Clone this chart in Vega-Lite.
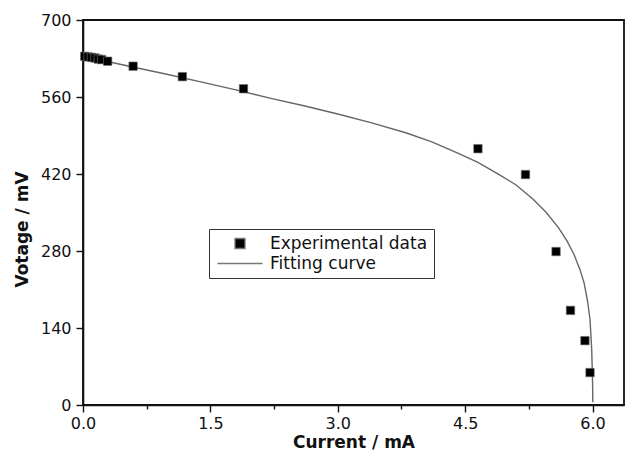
{
  "$schema": "https://vega.github.io/schema/vega-lite/v6.json",
  "width": 541,
  "height": 385,
  "autosize": {"type": "none"},
  "padding": {"left": 83, "top": 20, "right": 2, "bottom": 50},
  "background": "white",
  "config": {
    "view": {"stroke": "#111", "strokeWidth": 1.8},
    "font": "DejaVu Sans",
    "axis": {
      "grid": false,
      "domainColor": "#111",
      "domainWidth": 1.6,
      "tickColor": "#111",
      "tickWidth": 1.4,
      "labelFont": "DejaVu Sans",
      "labelFontSize": 16,
      "labelColor": "#111",
      "labelFlush": false,
      "titleFont": "DejaVu Sans",
      "titleFontSize": 17,
      "titleFontWeight": "bold",
      "titleColor": "#111"
    }
  },
  "datasets": {
    "exp": [
      {"I": 0.02, "V": 634, "series": "Experimental data"},
      {"I": 0.06, "V": 633, "series": "Experimental data"},
      {"I": 0.10, "V": 632, "series": "Experimental data"},
      {"I": 0.14, "V": 631, "series": "Experimental data"},
      {"I": 0.18, "V": 629, "series": "Experimental data"},
      {"I": 0.22, "V": 628, "series": "Experimental data"},
      {"I": 0.29, "V": 625, "series": "Experimental data"},
      {"I": 0.59, "V": 616, "series": "Experimental data"},
      {"I": 1.17, "V": 597, "series": "Experimental data"},
      {"I": 1.89, "V": 575, "series": "Experimental data"},
      {"I": 4.65, "V": 466, "series": "Experimental data"},
      {"I": 5.21, "V": 419, "series": "Experimental data"},
      {"I": 5.57, "V": 279, "series": "Experimental data"},
      {"I": 5.74, "V": 172, "series": "Experimental data"},
      {"I": 5.91, "V": 117, "series": "Experimental data"},
      {"I": 5.97, "V": 59, "series": "Experimental data"}
    ],
    "fit": [
      {"I": 0.0, "V": 635},
      {"I": 0.1, "V": 632},
      {"I": 0.3, "V": 624},
      {"I": 0.6, "V": 614},
      {"I": 1.0, "V": 601},
      {"I": 1.4, "V": 587},
      {"I": 1.8, "V": 573},
      {"I": 2.2, "V": 558},
      {"I": 2.6, "V": 544},
      {"I": 3.0, "V": 529},
      {"I": 3.4, "V": 513},
      {"I": 3.8, "V": 495},
      {"I": 4.1, "V": 479},
      {"I": 4.4, "V": 459},
      {"I": 4.65, "V": 441},
      {"I": 4.9, "V": 419},
      {"I": 5.1, "V": 400},
      {"I": 5.3, "V": 374},
      {"I": 5.45, "V": 351},
      {"I": 5.6, "V": 322},
      {"I": 5.7, "V": 298},
      {"I": 5.78, "V": 274},
      {"I": 5.85, "V": 247},
      {"I": 5.9, "V": 222},
      {"I": 5.94, "V": 190},
      {"I": 5.97, "V": 155},
      {"I": 5.99, "V": 100},
      {"I": 6.0, "V": 40},
      {"I": 6.003, "V": 5}
    ]
  },
  "layer": [
    {
      "data": {"name": "fit"},
      "mark": {"type": "line", "color": "#666", "strokeWidth": 1.4},
      "encoding": {
        "x": {"field": "I", "type": "quantitative"},
        "y": {"field": "V", "type": "quantitative"},
        "order": {"field": "V", "sort": "descending"}
      }
    },
    {
      "data": {"name": "exp"},
      "mark": {"type": "point", "filled": false, "fill": "black", "stroke": "#777", "strokeWidth": 0.6, "size": 72, "opacity": 1, "fillOpacity": 1, "strokeOpacity": 1},
      "encoding": {
        "x": {
          "field": "I",
          "type": "quantitative",
          "title": "Current / mA",
          "scale": {"domain": [0, 6.37], "nice": false, "zero": false},
          "axis": {
            "values": [0, 0.75, 1.5, 2.25, 3.0, 3.75, 4.5, 5.25, 6.0],
            "labelExpr": "abs(datum.value/1.5 - round(datum.value/1.5)) < 0.001 ? format(datum.value, '.1f') : ''",
            "tickSize": {"condition": {"test": "abs(datum.value/1.5 - round(datum.value/1.5)) < 0.001", "value": 7}, "value": 4},
            "labelPadding": 3,
            "titlePadding": 3
          }
        },
        "y": {
          "field": "V",
          "type": "quantitative",
          "title": "Votage / mV",
          "scale": {"domain": [0, 700], "nice": false},
          "axis": {
            "values": [0, 70, 140, 210, 280, 350, 420, 490, 560, 630, 700],
            "labelExpr": "datum.value % 140 == 0 ? datum.value : ''",
            "tickSize": {"condition": {"test": "datum.value % 140 == 0", "value": 7}, "value": 4},
            "labelPadding": 5,
            "titlePadding": 9,
            "titleY": 209
          }
        },
        "shape": {
          "field": "series",
          "type": "nominal",
          "scale": {"domain": ["Experimental data", "Fitting curve"], "range": ["square", "M-4.5,0L4.5,0"]},
          "legend": {
            "title": null,
            "orient": "none",
            "legendX": 126,
            "legendY": 209,
            "strokeColor": "#333",
            "fillColor": "white",
            "padding": 6,
            "labelFont": "DejaVu Sans",
            "labelFontSize": 17,
            "labelColor": "#111",
            "rowPadding": 2,
            "labelOffset": 21.5,
            "symbolOffset": 16.5,
            "symbolStrokeWidth": 1.3
          }
        }
      }
    }
  ]
}
